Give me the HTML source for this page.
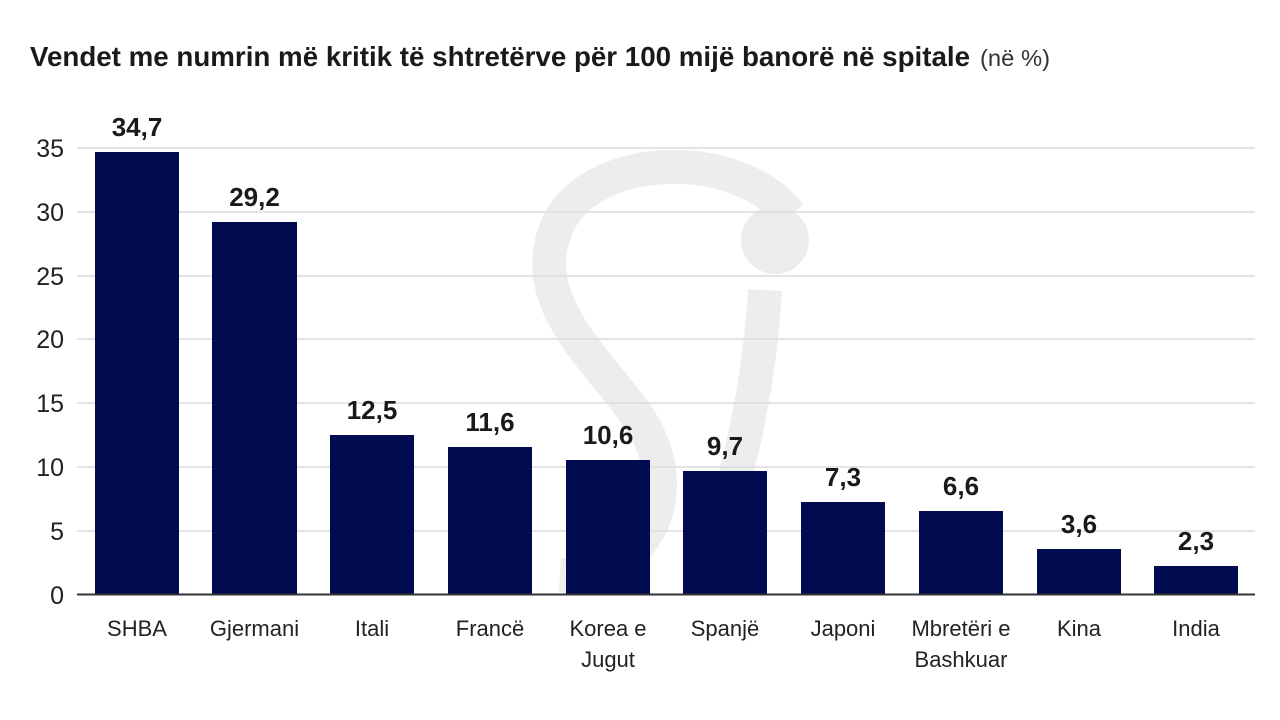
<!DOCTYPE html>
<html><head><meta charset="utf-8"><style>
html,body{margin:0;padding:0;background:#fff;width:1280px;height:720px;overflow:hidden}
svg{display:block}
text{font-family:"Liberation Sans Narrow","Liberation Sans",sans-serif}
</style></head><body>
<svg width="1280" height="720" viewBox="0 0 1280 720">
<!-- watermark -->
<g fill="none" stroke="#ececec" stroke-width="34" opacity="0.9">
<path d="M790 215 C 740 150, 600 150, 560 220 C 520 300, 600 360, 640 420 C 690 500, 640 580, 560 575"/>
<path d="M765 290 C 760 380, 740 480, 700 590"/>
</g>
<circle cx="775" cy="240" r="34" fill="#ececec"/>
<text x="30" y="66" font-size="28" font-weight="bold" fill="#1a1a1a" textLength="940" lengthAdjust="spacingAndGlyphs">Vendet me numrin më kritik të shtretërve për 100 mijë banorë në spitale</text>
<text x="980" y="66" font-size="23" fill="#333" textLength="70" lengthAdjust="spacingAndGlyphs">(në %)</text>
<g stroke="#dcdcdc" stroke-width="1.5">
<line x1="77" x2="1255" y1="148" y2="148"/>
<line x1="77" x2="1255" y1="212" y2="212"/>
<line x1="77" x2="1255" y1="276" y2="276"/>
<line x1="77" x2="1255" y1="339" y2="339"/>
<line x1="77" x2="1255" y1="403" y2="403"/>
<line x1="77" x2="1255" y1="467" y2="467"/>
<line x1="77" x2="1255" y1="531" y2="531"/>
</g>
<g font-size="25" fill="#222" text-anchor="end">
<text x="64" y="157">35</text><text x="64" y="221">30</text><text x="64" y="285">25</text>
<text x="64" y="348">20</text><text x="64" y="412">15</text><text x="64" y="476">10</text>
<text x="64" y="540">5</text><text x="64" y="604">0</text>
</g>
<g fill="#020b4f">
<rect x="95" y="152" width="84" height="443"/>
<rect x="212" y="222" width="85" height="373"/>
<rect x="330" y="435" width="84" height="160"/>
<rect x="448" y="447" width="84" height="148"/>
<rect x="566" y="460" width="84" height="135"/>
<rect x="683" y="471" width="84" height="124"/>
<rect x="801" y="502" width="84" height="93"/>
<rect x="919" y="511" width="84" height="84"/>
<rect x="1037" y="549" width="84" height="46"/>
<rect x="1154" y="566" width="84" height="29"/>
</g>
<line x1="77" x2="1255" y1="594.5" y2="594.5" stroke="#333" stroke-width="2"/>
<g font-size="26" font-weight="bold" fill="#1a1a1a" text-anchor="middle">
<text x="137" y="136">34,7</text><text x="254.5" y="206">29,2</text><text x="372" y="419">12,5</text>
<text x="490" y="431">11,6</text><text x="608" y="444">10,6</text><text x="725" y="455">9,7</text>
<text x="843" y="486">7,3</text><text x="961" y="495">6,6</text><text x="1079" y="533">3,6</text>
<text x="1196" y="550">2,3</text>
</g>
<g font-size="22" fill="#222" text-anchor="middle">
<text x="137" y="636">SHBA</text><text x="254.5" y="636">Gjermani</text><text x="372" y="636">Itali</text>
<text x="490" y="636">Francë</text><text x="608" y="636">Korea e</text><text x="608" y="667">Jugut</text>
<text x="725" y="636">Spanjë</text><text x="843" y="636">Japoni</text>
<text x="961" y="636">Mbretëri e</text><text x="961" y="667">Bashkuar</text>
<text x="1079" y="636">Kina</text><text x="1196" y="636">India</text>
</g>
</svg>
</body></html>
